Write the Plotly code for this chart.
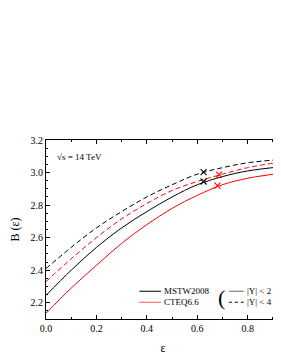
import plotly.graph_objects as go

eps = [0.0, 0.1, 0.2, 0.3, 0.4, 0.5, 0.6, 0.7, 0.8, 0.93]
mstw_y2 = [2.245, 2.40, 2.54, 2.66, 2.76, 2.85, 2.925, 2.975, 3.01, 3.035]
cteq_y2 = [2.135, 2.29, 2.43, 2.565, 2.68, 2.78, 2.86, 2.925, 2.965, 2.995]
mstw_y4 = [2.41, 2.54, 2.66, 2.76, 2.85, 2.925, 2.99, 3.03, 3.06, 3.08]
cteq_y4 = [2.33, 2.47, 2.60, 2.715, 2.81, 2.89, 2.945, 2.99, 3.03, 3.065]

mark_mstw_x = [0.625, 0.625]
mark_mstw_y = [2.945, 3.003]
mark_cteq_x = [0.68, 0.686]
mark_cteq_y = [2.919, 2.987]

BLACK = "#000000"
RED = "#ff0000"
FONT = "Liberation Serif"
DASH = "5px,3px"

# page body has an 8px margin: figure placed at (8,8)
OFF = 8
L, T, R, B = 43, 140, 281, 327  # plot area in page pixels
W, H = 281 - OFF, 363 - 2 * OFF

fig = go.Figure()
for y, col, dash in [(mstw_y4, BLACK, DASH), (cteq_y4, RED, DASH),
                     (mstw_y2, BLACK, "solid"), (cteq_y2, RED, "solid")]:
    fig.add_trace(go.Scatter(x=eps, y=y, mode="lines", line=dict(color=col, width=1, dash=dash, shape="spline"),
                             showlegend=False, hoverinfo="skip"))
fig.add_trace(go.Scatter(x=mark_mstw_x, y=mark_mstw_y, mode="markers",
                         marker=dict(symbol="x-thin", size=6, line=dict(color=BLACK, width=1.1)), showlegend=False))
fig.add_trace(go.Scatter(x=mark_cteq_x, y=mark_cteq_y, mode="markers",
                         marker=dict(symbol="x-thin", size=6, line=dict(color=RED, width=1.1)), showlegend=False))

axis_common = dict(showline=True, linecolor="black", linewidth=1, mirror="ticks", ticks="inside",
                   ticklen=4, tickcolor="black", showgrid=False, zeroline=False,
                   tickfont=dict(family=FONT, size=10, color="black"))
fig.update_xaxes(range=[0, 0.928], dtick=0.2, tickformat=".1f",
                 minor=dict(ticks="inside", ticklen=2, dtick=0.1, tickcolor="black"),
                 title=dict(text="ε", font=dict(family=FONT, size=12, color="black"), standoff=13),
                 **axis_common)
fig.update_yaxes(range=[2.1, 3.2], dtick=0.2, tickformat=".1f",
                 minor=dict(ticks="inside", ticklen=2, dtick=0.05, tickcolor="black"),
                 title=dict(text="B (ε)", font=dict(family=FONT, size=12, color="black"), standoff=14),
                 **axis_common)

def hline(x0, x1, y, col, dash="solid"):
    fig.add_shape(type="line", xref="paper", yref="paper", x0=x0, x1=x1, y0=y, y1=y,
                  line=dict(color=col, width=1, dash=dash))

def lx(px):
    return (px - L) / (R - L)

def ly(py):
    return (B - py) / (B - T)

hline(lx(138), lx(160), ly(298), BLACK)
hline(lx(138), lx(160), ly(309.5), "#ff5555")
hline(lx(229), lx(244), ly(298), "#666666")
hline(lx(229), lx(244), ly(309.5), BLACK, "3px,3px")
for txt, px, py in [("MSTW2008", 161, 298), ("CTEQ6.6", 161, 309.5), ("|Y| < 2", 245, 298), ("|Y| < 4", 245, 309.5)]:
    fig.add_annotation(xref="paper", yref="paper", x=lx(px), y=ly(py), text=txt, showarrow=False,
                       xanchor="left", yanchor="middle", font=dict(family=FONT, size=9, color="black"))
fig.add_annotation(xref="paper", yref="paper", x=lx(216), y=ly(305), text="(", showarrow=False,
                   xanchor="left", yanchor="middle", font=dict(family=FONT, size=22, color="black"))
fig.add_annotation(xref="paper", yref="paper", x=lx(52), y=ly(158), text="√s = 14 TeV", showarrow=False,
                   xanchor="left", yanchor="middle", font=dict(family=FONT, size=9, color="black"))

fig.update_layout(width=W, height=H,
                  margin=dict(l=L - OFF, r=W - (R - OFF), t=T - OFF, b=H - (B - OFF)),
                  plot_bgcolor="white", paper_bgcolor="white", font=dict(family=FONT, color="black"))
fig.write_html("out.html")
